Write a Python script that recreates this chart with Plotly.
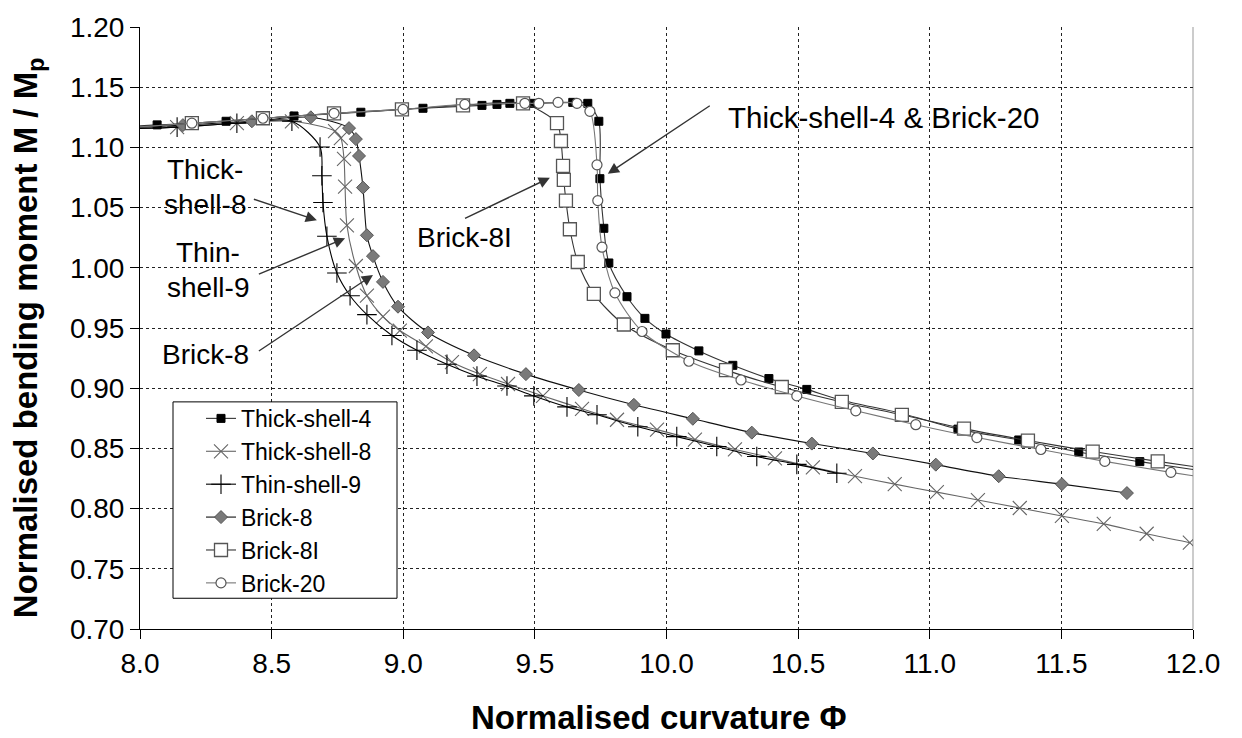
import plotly.graph_objects as go

# ---------------- data ----------------
ts4_x = [7.80, 8.065, 8.327, 8.585, 8.839, 9.075, 9.299, 9.356, 9.405, 9.493, 9.644, 9.701,
         9.743, 9.747, 9.762, 9.781, 9.850, 9.918, 9.998, 10.123, 10.252, 10.389, 10.533,
         10.666, 10.894, 11.107, 11.338, 11.566, 11.798, 12.03]
ts4_y = [1.1155, 1.1187, 1.1217, 1.1261, 1.1292, 1.1325, 1.1349, 1.1357, 1.1366, 1.1366, 1.1374, 1.1366,
         1.1217, 1.074, 1.0328, 1.004, 0.976, 0.958, 0.945, 0.931, 0.919, 0.908, 0.899,
         0.890, 0.879, 0.866, 0.857, 0.847, 0.839, 0.8315]

ts8_x = [7.90, 8.141, 8.368, 8.577, 8.741, 8.763, 8.775, 8.779, 8.786, 8.820, 8.862, 8.923,
         8.987, 9.086, 9.185, 9.291, 9.398, 9.531, 9.679, 9.812, 9.964, 10.108, 10.260, 10.412,
         10.556, 10.716, 10.867, 11.027, 11.183, 11.342, 11.502, 11.661, 11.824, 11.988]
ts8_y = [1.1150, 1.1168, 1.1201, 1.1217, 1.1135, 1.1077, 1.0904, 1.0674, 1.0353, 1.0015, 0.9768, 0.9595,
         0.9479, 0.9348, 0.9216, 0.9117, 0.9035, 0.8936, 0.8829, 0.8738, 0.8656, 0.8573, 0.8491, 0.8417,
         0.8343, 0.8269, 0.8203, 0.8137, 0.8071, 0.8005, 0.7939, 0.7873, 0.7791, 0.7717]

ts9_x = [7.90, 8.141, 8.368, 8.577, 8.684, 8.691, 8.695, 8.710, 8.748, 8.798, 8.862, 8.957,
         9.052, 9.166, 9.280, 9.394, 9.496, 9.622, 9.736, 9.891, 10.039, 10.191, 10.343, 10.495, 10.647]
ts9_y = [1.1150, 1.1168, 1.1201, 1.1217, 1.1003, 1.0764, 1.0542, 1.0262, 0.9957, 0.9768, 0.9611, 0.9438,
         0.9315, 0.9199, 0.9100, 0.9018, 0.8936, 0.8845, 0.8779, 0.8680, 0.8598, 0.8516, 0.8433, 0.8367, 0.8293]

b8_x = [7.90, 8.163, 8.425, 8.649, 8.794, 8.820, 8.832, 8.847, 8.862, 8.885, 8.923, 8.980,
        9.094, 9.269, 9.466, 9.667, 9.876, 10.100, 10.324, 10.552, 10.784, 11.023, 11.262, 11.502, 11.749]
b8_y = [1.1155, 1.1185, 1.1217, 1.1250, 1.1160, 1.1069, 1.0929, 1.0666, 1.0270, 1.0097, 0.9883, 0.9677,
        0.9463, 0.9273, 0.9117, 0.8985, 0.8862, 0.8746, 0.8631, 0.8540, 0.8458, 0.8365, 0.8269, 0.8203, 0.8129]

b8i_x = [7.93, 8.197, 8.467, 8.737, 8.995, 9.227, 9.455, 9.584, 9.599, 9.607, 9.610, 9.618,
         9.633, 9.663, 9.724, 9.838, 10.024, 10.226, 10.438, 10.666, 10.894, 11.130, 11.373,
         11.619, 11.866, 12.11]
b8i_y = [1.1160, 1.1201, 1.1242, 1.1283, 1.1316, 1.1349, 1.1366, 1.1201, 1.1053, 1.0847, 1.0731, 1.0558,
         1.0320, 1.0048, 0.9784, 0.9529, 0.9315, 0.9150, 0.9010, 0.8886, 0.8779, 0.8664, 0.8565,
         0.8474, 0.8392, 0.8315]

b20_x = [7.93, 8.197, 8.467, 8.737, 8.999, 9.234, 9.462, 9.515, 9.588, 9.660, 9.709, 9.736,
         9.739, 9.755, 9.804, 9.907, 10.085, 10.283, 10.495, 10.719, 10.947, 11.179, 11.422,
         11.665, 11.916, 12.17]
b20_y = [1.1160, 1.1201, 1.1242, 1.1283, 1.1316, 1.1357, 1.1366, 1.1366, 1.1374, 1.1366, 1.1300, 1.0855,
         1.0558, 1.0171, 0.9792, 0.9471, 0.9224, 0.9068, 0.8936, 0.8812, 0.8697, 0.8590, 0.8491,
         0.8392, 0.8301, 0.8215]

x_ticks = [8.0, 8.5, 9.0, 9.5, 10.0, 10.5, 11.0, 11.5, 12.0]
y_ticks = [0.70, 0.75, 0.80, 0.85, 0.90, 0.95, 1.00, 1.05, 1.10, 1.15, 1.20]

FONT = "Liberation Sans, Arial, sans-serif"

fig = go.Figure()

def add(name, xs, ys, rank, lcolor, msym, msize, mcolor, mline_color, mline_w):
    fig.add_trace(go.Scatter(
        x=xs, y=ys, name=name, mode="lines+markers", legendrank=rank,
        line=dict(color=lcolor, width=1.1, shape="spline", smoothing=0.8),
        marker=dict(symbol=msym, size=msize, color=mcolor,
                    line=dict(color=mline_color, width=mline_w)),
    ))

# drawing order (later on top); legend order via legendrank
add("Thick-shell-8", ts8_x, ts8_y, 2, "#666666", "x-thin-open", 14, "#666666", "#666666", 1.1)
add("Thin-shell-9", ts9_x, ts9_y, 3, "#000000", "cross-thin-open", 14, "#000000", "#000000", 1.1)
add("Brick-8", b8_x, b8_y, 4, "#111111", "diamond", 10, "#7a7a7a", "#555555", 1)
add("Thick-shell-4", ts4_x, ts4_y, 1, "#333333", "square", 8, "#000000", "#000000", 1)
add("Brick-8I", b8i_x, b8i_y, 5, "#333333", "square", 13, "#ffffff", "#555555", 1.3)
add("Brick-20", b20_x, b20_y, 6, "#777777", "circle", 10, "#ffffff", "#555555", 1.2)

ann = []
def arrow(tx, ty, hx, hy):
    ann.append(dict(x=hx, y=hy, ax=tx, ay=ty, xref="x", yref="y", axref="x", ayref="y",
                    text=" ", showarrow=True, arrowhead=2, arrowsize=1.6, arrowwidth=1.4,
                    arrowcolor="#333333", standoff=0, startstandoff=0,
                    font=dict(size=2)))

def label(x, y, t, size=28):
    ann.append(dict(x=x, y=y, xref="x", yref="y", text=t, showarrow=False,
                    font=dict(family=FONT, size=size, color="#000000"),
                    xanchor="center", yanchor="middle"))

arrow(10.172, 1.1357, 9.777, 1.0781)
arrow(9.227, 1.0402, 9.557, 1.0748)
arrow(8.425, 1.0575, 8.672, 1.0394)
arrow(8.444, 0.9941, 8.779, 1.0245)
arrow(8.444, 0.9298, 8.885, 0.9941)

label(10.826, 1.1250, "Thick-shell-4 &amp; Brick-20", size=29.5)
label(9.231, 1.0254, "Brick-8I")
label(8.247, 1.0814, "Thick-")
label(8.247, 1.0526, "shell-8")
label(8.258, 1.0130, "Thin-")
label(8.258, 0.9834, "shell-9")
label(8.247, 0.9282, "Brick-8")

# axis titles
ann.append(dict(x=0.4929, y=-0.1466, xref="paper", yref="paper", showarrow=False,
                text="<b>Normalised curvature Φ</b>", xanchor="center", yanchor="middle",
                font=dict(family=FONT, size=33, color="#000000")))
ann.append(dict(x=-0.1064, y=0.483, xref="paper", yref="paper", showarrow=False, textangle=-90,
                text="<b>Normalised bending moment M / M<sub>p</sub></b>",
                xanchor="center", yanchor="middle",
                font=dict(family=FONT, size=33, color="#000000")))

L, R, T, B = 140, 49, 22, 109
PW, PH = 1242 - L - R, 738 - T - B

def px2paper_x(p):
    return (p - L) / PW

def px2paper_y(p):
    return (738 - B - p) / PH

shapes = [
    # legend box
    dict(type="rect", xref="paper", yref="paper",
         x0=px2paper_x(173), x1=px2paper_x(397), y0=px2paper_y(598), y1=px2paper_y(400),
         line=dict(color="#000000", width=1), fillcolor="#ffffff", layer="above"),
    # right frame line
    dict(type="line", xref="paper", yref="paper", x0=1, x1=1, y0=0, y1=1,
         line=dict(color="#999999", width=1), layer="below"),
]

fig.update_layout(
    width=1242, height=738, autosize=False,
    margin=dict(l=L, r=R, t=T, b=B),
    paper_bgcolor="#ffffff", plot_bgcolor="#ffffff",
    font=dict(family=FONT, color="#000000"),
    annotations=ann, shapes=shapes,
    legend=dict(x=px2paper_x(201), y=px2paper_y(395), xanchor="left", yanchor="top",
                bgcolor="rgba(0,0,0,0)", borderwidth=0,
                font=dict(family=FONT, size=23, color="#000000"),
                tracegroupgap=0),
    showlegend=True,
)
fig.update_xaxes(range=[8, 12], tickvals=x_ticks, ticktext=[f"{v:.1f}" for v in x_ticks],
                 showgrid=True, gridcolor="#222222", griddash="dot", gridwidth=1,
                 showline=True, linecolor="#000000", linewidth=1,
                 ticks="outside", ticklen=9, tickcolor="#000000",
                 tickfont=dict(family=FONT, size=28, color="#000000"), zeroline=False)
fig.update_yaxes(range=[0.7, 1.2], tickvals=y_ticks, ticktext=[f"{v:.2f}" for v in y_ticks],
                 showgrid=True, gridcolor="#222222", griddash="dot", gridwidth=1,
                 showline=True, linecolor="#000000", linewidth=1,
                 ticks="outside", ticklen=9, tickcolor="#000000",
                 tickfont=dict(family=FONT, size=28, color="#000000"), zeroline=False)

fig.write_html("out.html")
